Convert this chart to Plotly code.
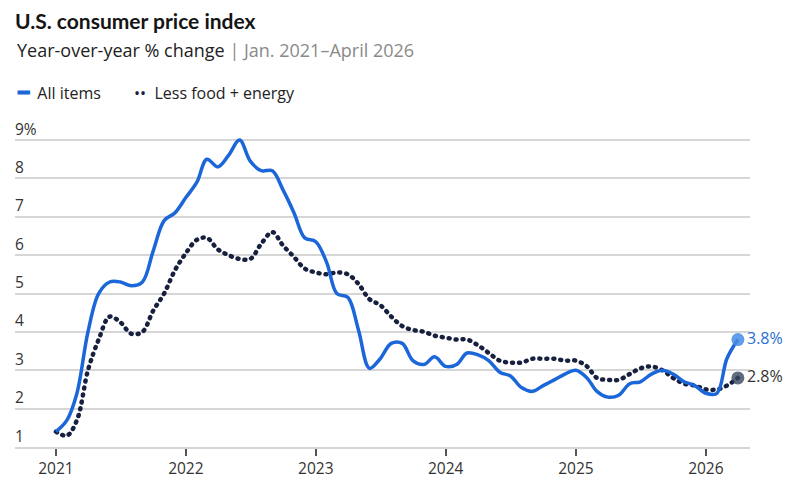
import plotly.graph_objects as go
import pandas as pd

months = pd.date_range("2021-01-01", "2026-04-01", freq="MS")

# year-over-year % change (monthly)
all_items = [
    1.4, 1.7, 2.4, 4.0, 5.0, 5.3, 5.3, 5.2, 5.3, 6.1, 6.9, 7.1,
    7.5, 7.9, 8.5, 8.3, 8.6, 9.0, 8.45, 8.2, 8.2, 7.7, 7.1, 6.45,
    6.35, 5.8, 5.0, 4.9, 4.05, 3.05, 3.3, 3.7, 3.7, 3.25, 3.15, 3.35,
    3.1, 3.15, 3.45, 3.4, 3.25, 2.95, 2.85, 2.55, 2.45, 2.6, 2.75, 2.9,
    3.0, 2.8, 2.45, 2.3, 2.35, 2.65, 2.7, 2.9, 3.0, 2.9, 2.7, 2.6,
    2.4, 2.4, 3.3, 3.8,
]
core = [
    1.4, 1.3, 1.7, 3.0, 3.8, 4.4, 4.25, 3.95, 4.0, 4.55, 5.0, 5.6,
    6.05, 6.4, 6.45, 6.15, 6.0, 5.9, 5.9, 6.3, 6.6, 6.25, 5.95, 5.65,
    5.55, 5.5, 5.55, 5.5, 5.25, 4.85, 4.7, 4.4, 4.15, 4.05, 4.0, 3.9,
    3.85, 3.8, 3.8, 3.65, 3.45, 3.25, 3.2, 3.2, 3.3, 3.3, 3.3, 3.25,
    3.25, 3.1, 2.8, 2.75, 2.75, 2.9, 3.05, 3.1, 3.0, 2.8, 2.65, 2.6,
    2.5, 2.5, 2.6, 2.8,
]

y_ticks = [1, 2, 3, 4, 5, 6, 7, 8, 9]
y_ticktext = ["1", "2", "3", "4", "5", "6", "7", "8", "9%"]
x_ticks = ["2021-01-01", "2022-01-01", "2023-01-01", "2024-01-01", "2025-01-01", "2026-01-01"]
x_ticktext = ["2021", "2022", "2023", "2024", "2025", "2026"]

blue = "#1b66d8"
navy = "#17213f"
font = "Open Sans"

fig = go.Figure()

fig.add_trace(go.Scatter(
    x=months, y=core, mode="lines",
    line=dict(color=navy, width=4.5, dash="1px,6px", shape="spline", smoothing=1),
    name="Less food + energy", hoverinfo="skip"
))
fig.add_trace(go.Scatter(
    x=months, y=all_items, mode="lines",
    line=dict(color=blue, width=3.5, shape="spline", smoothing=1),
    name="All items", hoverinfo="skip"
))

# end-point markers with value labels
fig.add_trace(go.Scatter(
    x=[months[-1]], y=[core[-1]], mode="markers+text",
    marker=dict(size=13, color="rgba(55,70,95,0.8)"),
    text=[f"{core[-1]}%"], textposition="middle right",
    textfont=dict(family=font, size=16, color="#333333"),
    cliponaxis=False, hoverinfo="skip"
))
fig.add_trace(go.Scatter(
    x=[months[-1]], y=[all_items[-1]], mode="markers+text",
    marker=dict(size=13, color="rgba(70,140,230,0.85)"),
    text=[f"{all_items[-1]}%"], textposition="middle right",
    textfont=dict(family=font, size=16, color="#2a6fd0"),
    cliponaxis=False, hoverinfo="skip"
))

fig.update_layout(
    width=798, height=493,
    margin=dict(l=15, r=48, t=117, b=46),
    plot_bgcolor="white", paper_bgcolor="white",
    showlegend=False,
    font=dict(family=font, size=15, color="#333333"),
    title=dict(
        text="<b>U.S. consumer price index</b>",
        font=dict(family="Lato", size=21, color="#151515"),
        x=15 / 798, xanchor="left", xref="container",
        y=1 - 22 / 493, yanchor="middle", yref="container",
    ),
    xaxis=dict(
        type="date",
        range=["2020-09-08", "2026-05-05"],
        tickvals=x_ticks, ticktext=x_ticktext,
        ticks="outside", ticklen=7, tickwidth=1.5, tickcolor="#555555",
        showgrid=False, showline=True, linecolor="#d6d6d6", linewidth=1.5,
        zeroline=False,
        tickfont=dict(family=font, size=15.5, color="#333333"),
    ),
    yaxis=dict(
        range=[1, 9.6],
        tickvals=y_ticks, ticktext=y_ticktext,
        ticklabelposition="inside top", ticklabelstandoff=-3,
        showgrid=True, gridcolor="#d6d6d6", gridwidth=1.5,
        zeroline=False, showline=False, ticks="",
        tickfont=dict(family=font, size=15.5, color="#333333"),
    ),
    annotations=[
        dict(
            text="Year-over-year % change <span style='color:#8a8a8a'>| Jan. 2021–April 2026</span>",
            xref="paper", yref="paper", x=0, y=1.203, xanchor="left", yanchor="middle",
            showarrow=False, font=dict(family=font, size=18, color="#222222"),
        ),
        dict(
            text=f"<span style='color:{blue};font-size:19px'><b>━</b></span>  All items"
                 f"        <span style='color:{navy}'>••</span>  Less food + energy",
            xref="paper", yref="paper", x=0, y=1.076, xanchor="left", yanchor="middle",
            showarrow=False, font=dict(family=font, size=16, color="#222222"),
        ),
    ],
)

post = (
    "document.body.style.margin='0';"
    "var gd=document.getElementById('{plot_id}');"
    "function rc(){gd.querySelectorAll('path').forEach(function(p){"
    "if(p.style.strokeDasharray){p.style.strokeLinecap='round';}});}"
    "rc();gd.on('plotly_afterplot',rc);"
)

fig.write_html("out.html", post_script=post, config={"displayModeBar": False})
